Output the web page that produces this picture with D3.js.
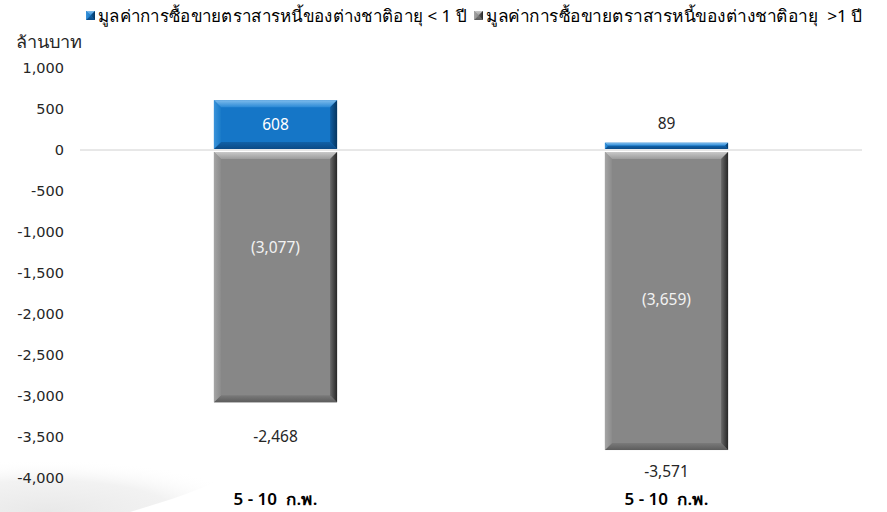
<!DOCTYPE html>
<html>
<head>
<meta charset="utf-8">
<script src="https://cdn.jsdelivr.net/npm/d3@7"></script>
<style>
  html, body { margin: 0; padding: 0; background: #ffffff; }
  svg { display: block; font-family: Tahoma, "Noto Sans", "DejaVu Sans", sans-serif; }
</style>
</head>
<body>
<svg id="chart" width="887" height="512"></svg>
<script>
// Foreign bond trading value (million baht), short vs long maturity
const categories = ["5 - 10  ก.พ.", "5 - 10  ก.พ."];
const seriesNames = [
  "มูลค่าการซื้อขายตราสารหนี้ของต่างชาติอายุ < 1 ปี",
  "มูลค่าการซื้อขายตราสารหนี้ของต่างชาติอายุ  >1 ปี"
];
const shortTerm = [608, 89];
const longTerm = [-3077, -3659];
const totals = [-2468, -3571];
const yTicks = [1000, 500, 0, -500, -1000, -1500, -2000, -2500, -3000, -3500, -4000];
const unitLabel = "ล้านบาท";

const svg = d3.select("#chart");
const margin = { left: 80, right: 25 };
const W = 887;

const y = d3.scaleLinear().domain([-4000, 1000]).range([478, 68]);
const x = d3.scaleBand().domain(d3.range(categories.length)).range([margin.left, W - margin.right]).padding(0);
const barW = x.bandwidth() * 0.315;
const comma = d3.format(",");
const fmt = v => comma(v).replace("\u2212", "-");

// soft dotted backdrop in the lower-left corner
const defs = svg.append("defs");
const bg = defs.append("radialGradient").attr("id", "bgfade")
  .attr("cx", "20%").attr("cy", "100%").attr("r", "90%");
bg.append("stop").attr("offset", "0%").attr("stop-color", "#e4e4e4").attr("stop-opacity", 1);
bg.append("stop").attr("offset", "60%").attr("stop-color", "#ececec").attr("stop-opacity", 0.8);
bg.append("stop").attr("offset", "100%").attr("stop-color", "#ffffff").attr("stop-opacity", 0);
const dots = defs.append("pattern").attr("id", "dots").attr("width", 3).attr("height", 3)
  .attr("patternUnits", "userSpaceOnUse");
dots.append("rect").attr("width", 3).attr("height", 3).attr("fill", "url(#bgfade)");
const mask = defs.append("mask").attr("id", "dotmask");
mask.append("rect").attr("x", 0).attr("y", 440).attr("width", 260).attr("height", 72).attr("fill", "#fff");
svg.append("path")
  .attr("d", "M0,512 L0,458 C70,450 160,452 235,470 C215,486 170,500 130,512 Z")
  .attr("fill", "url(#bgfade)").attr("opacity", 0.85);

// gradients for the bevelled bars
function lin(id, x1, y1, x2, y2, stops) {
  const g = defs.append("linearGradient").attr("id", id)
    .attr("x1", x1).attr("y1", y1).attr("x2", x2).attr("y2", y2);
  stops.forEach(s => g.append("stop").attr("offset", s[0]).attr("stop-color", s[1]));
}
const palettes = {
  blue: { face: "#1576c7", top: ["#7fbcec", "#2c8ad6"], bottom: ["#1161a7", "#0b4a86"], left: ["#3a93da", "#1a7bc9"], right: ["#0f5ea3", "#06355f"] },
  gray: { face: "#878787", top: ["#c9c9c9", "#9b9b9b"], bottom: ["#7a7a7a", "#5c5c5c"], left: ["#a5a5a5", "#8c8c8c"], right: ["#6a6a6a", "#262626"] }
};
Object.entries(palettes).forEach(([k, p]) => {
  lin(k + "-top", "0", "0", "0", "1", [["0", p.top[0]], ["1", p.top[1]]]);
  lin(k + "-bottom", "0", "0", "0", "1", [["0", p.bottom[0]], ["1", p.bottom[1]]]);
  lin(k + "-left", "0", "0", "1", "0", [["0", p.left[0]], ["1", p.left[1]]]);
  lin(k + "-right", "0", "0", "1", "0", [["0", p.right[0]], ["1", p.right[1]]]);
});

// y axis tick labels (no axis line)
const yAxis = d3.axisLeft(y).tickValues(yTicks).tickFormat(fmt).tickSize(0).tickPadding(0);
const ga = svg.append("g").attr("transform", "translate(64,0)").call(yAxis);
ga.select(".domain").remove();
ga.selectAll("text").attr("font-size", 14.5).attr("fill", "#262626")
  .attr("font-family", "Tahoma, 'DejaVu Sans', sans-serif");

// zero line
svg.append("line")
  .attr("x1", margin.left).attr("x2", W - margin.right)
  .attr("y1", y(0)).attr("y2", y(0))
  .attr("stroke", "#d0d0d0").attr("stroke-width", 1);

// bevelled bar drawing
function bevelBar(g, x0, x1, y0, y1, pal) {
  const w = x1 - x0, h = y1 - y0;
  const b = Math.min(7, w / 2, h / 2);
  g.append("rect").attr("x", x0).attr("y", y0).attr("width", w).attr("height", h).attr("fill", palettes[pal].face);
  const poly = (pts, fill) => g.append("polygon").attr("points", pts.map(p => p.join(",")).join(" ")).attr("fill", fill);
  poly([[x0, y0], [x1, y0], [x1 - b, y0 + b], [x0 + b, y0 + b]], `url(#${pal}-top)`);
  poly([[x0, y1], [x1, y1], [x1 - b, y1 - b], [x0 + b, y1 - b]], `url(#${pal}-bottom)`);
  poly([[x0, y0], [x0 + b, y0 + b], [x0 + b, y1 - b], [x0, y1]], `url(#${pal}-left)`);
  poly([[x1, y0], [x1 - b, y0 + b], [x1 - b, y1 - b], [x1, y1]], `url(#${pal}-right)`);
}

const bars = svg.append("g");
const labelDy = [-28, 0];        // vertical nudge of long-term value labels
const totalGap = [35, 22];       // distance of totals below the bar end
categories.forEach((c, i) => {
  const cx = x(i) + x.bandwidth() / 2;
  const x0 = cx - barW / 2, x1 = cx + barW / 2;
  // short-term (positive)
  bevelBar(bars, x0, x1, y(shortTerm[i]), y(0) - 1, "blue");
  // long-term (negative)
  bevelBar(bars, x0, x1, y(0) + 2, y(longTerm[i]), "gray");

  // value labels
  const shortH = y(0) - y(shortTerm[i]);
  if (shortH > 20) {
    svg.append("text").attr("x", cx).attr("y", (y(shortTerm[i]) + y(0)) / 2 + 5)
      .attr("text-anchor", "middle").attr("font-size", 15.5).attr("fill", "#ffffff")
      .text(fmt(shortTerm[i]));
  } else {
    svg.append("text").attr("x", cx).attr("y", y(shortTerm[i]) - 14)
      .attr("text-anchor", "middle").attr("font-size", 15.5).attr("fill", "#262626")
      .text(fmt(shortTerm[i]));
  }
  svg.append("text").attr("x", cx).attr("y", (y(0) + y(longTerm[i])) / 2 + 5 + labelDy[i])
    .attr("text-anchor", "middle").attr("font-size", 15.5).attr("fill", "#f2f2f2")
    .text("(" + fmt(-longTerm[i]) + ")");

  // totals
  svg.append("text").attr("x", cx).attr("y", y(longTerm[i]) + totalGap[i] + 5)
    .attr("text-anchor", "middle").attr("font-size", 15.5).attr("fill", "#262626")
    .text(fmt(totals[i]));

  // category label
  svg.append("text").attr("x", cx).attr("y", 505)
    .attr("text-anchor", "middle").attr("font-size", 16).attr("font-weight", 600).attr("fill", "#000")
    .attr("textLength", 84).attr("lengthAdjust", "spacingAndGlyphs")
    .attr("xml:space", "preserve")
    .text(c);
});

// unit label
svg.append("text").attr("x", 16).attr("y", 48).attr("font-size", 16.5).attr("fill", "#262626")
  .attr("textLength", 66).attr("lengthAdjust", "spacingAndGlyphs").text(unitLabel);

// legend
const legend = svg.append("g");
const legendX = [86, 474];
const legendLen = [368, 376];
const legendPal = ["blue", "gray"];
seriesNames.forEach((s, i) => {
  const g = legend.append("g").attr("transform", `translate(${legendX[i]},11)`);
  bevelBar(g, 0, 9, 0, 9, legendPal[i]);
  g.append("text").attr("x", 12).attr("y", 10.5).attr("font-size", 16.5).attr("fill", "#000")
    .attr("textLength", legendLen[i]).attr("lengthAdjust", "spacingAndGlyphs")
    .attr("xml:space", "preserve")
    .text(s);
});
</script>
</body>
</html>
